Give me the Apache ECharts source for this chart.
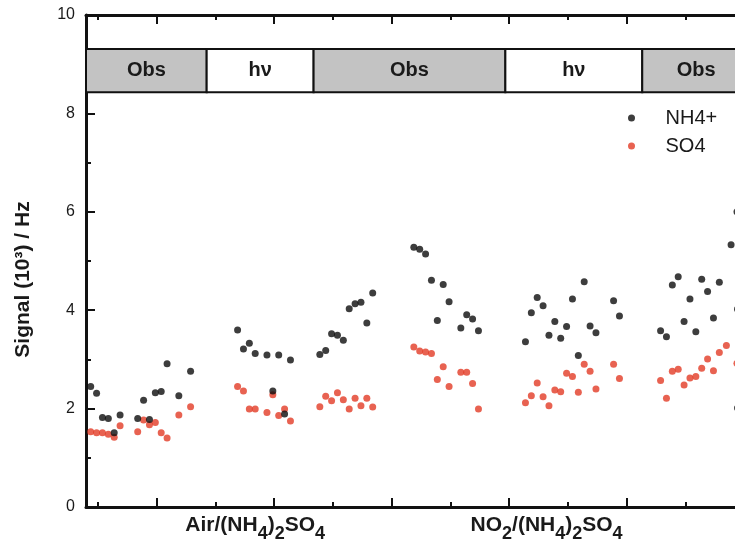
<!DOCTYPE html>
<html>
<head>
<meta charset="utf-8">
<script src="https://cdn.jsdelivr.net/npm/echarts@6/dist/echarts.min.js"></script>
<style>html,body{margin:0;padding:0;background:#fff;}#c{width:735px;height:547px;}</style>
</head>
<body>
<div id="c"></div>
<script>
// ---- data (x in run units, y in 10^3 Hz) ----
const airObs1X   = [4.4,4.9,5.4,5.9,6.4,6.9,8.4,8.9,9.4,9.9,10.4,10.9,11.9,12.9];
const airObs1NH4 = [2.45,2.31,1.82,1.80,1.51,1.87,1.80,2.17,1.78,2.32,2.35,2.91,2.26,2.76];
const airObs1SO4 = [1.53,1.51,1.51,1.48,1.42,1.65,1.53,1.77,1.67,1.72,1.51,1.40,1.87,2.04];

const airHvX   = [16.9,17.4,17.9,18.4,19.4,19.9,20.4,20.9,21.4];
const airHvNH4 = [3.60,3.21,3.33,3.12,3.09,2.36,3.09,1.89,2.99];
const airHvSO4 = [2.45,2.36,1.99,1.99,1.92,2.28,1.86,1.99,1.75];

const airObs2X   = [23.9,24.4,24.9,25.4,25.9,26.4,26.9,27.4,27.9,28.4];
const airObs2NH4 = [3.10,3.18,3.52,3.49,3.39,4.03,4.13,4.16,3.74,4.35];
const airObs2SO4 = [2.04,2.25,2.16,2.32,2.18,1.99,2.21,2.06,2.21,2.03];

const no2Obs1X   = [31.9,32.4,32.9,33.4,33.9,34.4,34.9,35.9,36.4,36.9,37.4];
const no2Obs1NH4 = [5.28,5.24,5.14,4.61,3.79,4.52,4.17,3.64,3.91,3.82,3.58];
const no2Obs1SO4 = [3.25,3.17,3.15,3.12,2.59,2.85,2.45,2.74,2.74,2.51,1.99];

const no2HvX   = [41.4,41.9,42.4,42.9,43.4,43.9,44.4,44.9,45.4,45.9,46.4,46.9,47.4,48.9,49.4];
const no2HvNH4 = [3.36,3.95,4.26,4.09,3.49,3.77,3.43,3.67,4.23,3.08,4.58,3.68,3.54,4.19,3.88];
const no2HvSO4 = [2.12,2.26,2.52,2.24,2.06,2.38,2.34,2.72,2.65,2.33,2.90,2.76,2.40,2.90,2.61];

const no2Obs2NH4X = [52.9,53.4,53.9,54.4,54.9,55.4,55.9,56.4,56.9,57.4,57.9,58.9,59.4,59.45,59.45];
const no2Obs2NH4  = [3.58,3.46,4.51,4.68,3.77,4.23,3.56,4.63,4.38,3.84,4.57,5.33,6.00,4.02,2.01];
const no2Obs2SO4X = [52.9,53.4,53.9,54.4,54.9,55.4,55.9,56.4,56.9,57.4,57.9,58.5,59.4];
const no2Obs2SO4  = [2.57,2.21,2.76,2.80,2.48,2.62,2.65,2.82,3.01,2.77,3.14,3.28,2.92];

// axis / annotation values
const xMajorTicks = [10,20,30,40,50,60];
const xMinorTicks = [5,15,25,35,45,55,65];
const yTickLabels = ['0','2','4','6','8','10'];
const groupLabelX = [18.4, 43.2];
const groupLabels = ['{m|Air/(NH}{s|4}{m|)}{s|2}{m|SO}{s|4}', '{m|NO}{s|2}{m|/(NH}{s|4}{m|)}{s|2}{m|SO}{s|4}'];
const bandEdges  = [4, 14.27, 23.37, 39.69, 51.34, 68];
const bandNames  = ['Obs','h\u03bd','Obs','h\u03bd','Obs'];
const bandLabelShift = [0, 0, 0, 0, -44];
const bandLow = 8.43, bandHigh = 9.31;
const seriesNames = ['NH4+','SO4'];

function zip(xs, ys){ return xs.map((x,i)=>[x, ys[i]]); }
const nh4Data = [].concat(zip(airObs1X,airObs1NH4), zip(airHvX,airHvNH4), zip(airObs2X,airObs2NH4),
  zip(no2Obs1X,no2Obs1NH4), zip(no2HvX,no2HvNH4), zip(no2Obs2NH4X,no2Obs2NH4));
const so4Data = [].concat(zip(airObs1X,airObs1SO4), zip(airHvX,airHvSO4), zip(airObs2X,airObs2SO4),
  zip(no2Obs1X,no2Obs1SO4), zip(no2HvX,no2HvSO4), zip(no2Obs2SO4X,no2Obs2SO4));

const bandData = bandNames.map((n,i)=>[
  {name:n, xAxis:bandEdges[i], yAxis:bandLow,
   itemStyle:{color: n==='Obs' ? '#c3c3c3' : '#ffffff'},
   label:{offset:[bandLabelShift[i], 0]}},
  {xAxis:bandEdges[i+1], yAxis:bandHigh}
]);

const FONT = 'Arial, "Liberation Sans", sans-serif';
const xMin = 4, xMax = 68;
function xAxisDef(pos, ticks, len, showLine, labels){
  return {
    type:'value', position:pos, min:xMin, max:xMax,
    axisLine:{show:showLine, onZero:false, lineStyle:{color:'#111', width:3}},
    axisTick:{show:true, inside:true, length:len, customValues:ticks, lineStyle:{color:'#111', width:2}},
    axisLabel: labels ? {
      show:true, customValues:groupLabelX, margin:8,
      formatter:(v)=>{ let b=0; groupLabelX.forEach((g,i)=>{ if(Math.abs(g-v)<Math.abs(groupLabelX[b]-v)) b=i; }); return groupLabels[b]; },
      rich:{
        m:{fontSize:21, fontWeight:'bold', color:'#1a1a1a', fontFamily:FONT, verticalAlign:'bottom', padding:[0,0,7,0]},
        s:{fontSize:18, fontWeight:'bold', color:'#1a1a1a', fontFamily:FONT, verticalAlign:'bottom'}
      }
    } : {show:false},
    splitLine:{show:false}
  };
}

const chart = echarts.init(document.getElementById('c'), null, {renderer:'canvas'});
chart.setOption({
  animation:false,
  backgroundColor:'#fff',
  grid:{left:86, top:15, bottom:40, width:752, containLabel:false, outerBoundsMode:'none'},
  legend:{
    orient:'vertical', left:623, top:103, itemGap:8,
    itemWidth:58, itemHeight:7, icon:'circle',
    data:seriesNames,
    textStyle:{fontSize:20, color:'#1a1a1a', fontFamily:FONT}
  },
  xAxis:[
    xAxisDef('bottom', xMajorTicks, 9, true, true),
    xAxisDef('bottom', xMinorTicks, 5, false, false),
    xAxisDef('top', xMajorTicks, 9, true, false),
    xAxisDef('top', xMinorTicks, 5, false, false)
  ],
  yAxis:{
    type:'value', min:0, max:10, interval:2,
    name:'Signal (10\u00b3) / Hz', nameLocation:'middle', nameGap:52,
    nameTextStyle:{fontSize:21, fontWeight:'bold', color:'#1a1a1a', fontFamily:FONT, padding:[0,37,0,0]},
    axisLine:{show:true, lineStyle:{color:'#111', width:3}},
    axisTick:{show:true, inside:true, length:9, lineStyle:{color:'#111', width:2}},
    minorTick:{show:true, splitNumber:2, length:5, lineStyle:{color:'#111', width:2}},
    axisLabel:{fontSize:16, color:'#1a1a1a', fontFamily:FONT, margin:11,
      formatter:(v)=>yTickLabels[Math.round(v/2)]},
    splitLine:{show:false}
  },
  series:[
    {
      name:'SO4', type:'scatter', xAxisIndex:0, symbol:'circle', symbolSize:7,
      itemStyle:{color:'#e23b26'}, data:so4Data, z:2,
      markArea:{
        silent:true,
        itemStyle:{borderColor:'#111', borderWidth:2, opacity:1},
        label:{show:true, position:'inside', fontSize:20, fontWeight:'bold', color:'#1a1a1a', fontFamily:FONT},
        data:bandData
      }
    },
    {
      name:'NH4+', type:'scatter', xAxisIndex:0, symbol:'circle', symbolSize:7,
      itemStyle:{color:'#0d0d0d'}, data:nh4Data, z:3
    }
  ]
});
</script>
</body>
</html>
